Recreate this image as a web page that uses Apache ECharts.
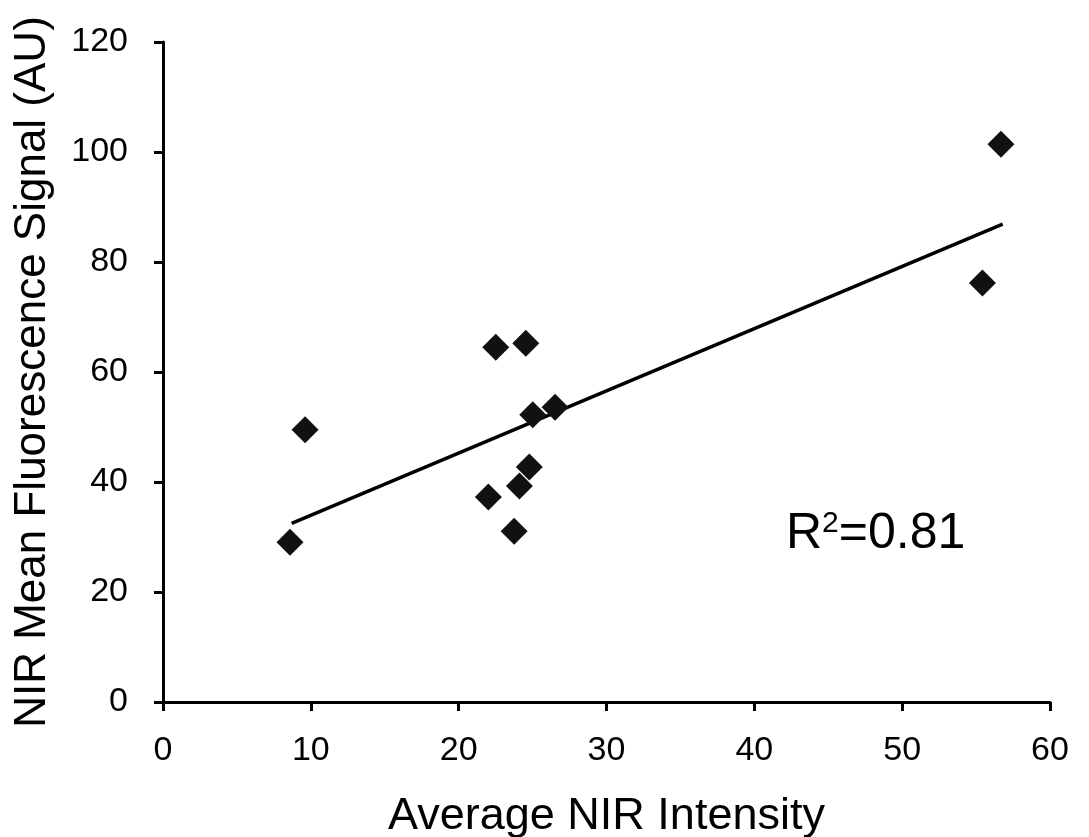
<!DOCTYPE html>
<html><head><meta charset="utf-8">
<script src="https://cdn.jsdelivr.net/npm/echarts@6/dist/echarts.min.js"></script>
<style>html,body{margin:0;padding:0;background:#fff}#c{width:1089px;height:837px}</style>
</head><body><div id="c"></div>
<script>
const xValues = [8.59, 9.61, 22.01, 22.51, 23.75, 24.11, 24.54, 24.78, 25.01, 26.52, 55.43, 56.68];
const yValues = [29.05, 49.48, 37.26, 64.51, 31.06, 39.27, 65.24, 42.73, 52.22, 53.57, 76.18, 101.4];
const trendX = [8.7, 56.8];
const trendY = [32.46, 86.87];
const rSquaredText = '0.81';

const font = 'Liberation Sans, Arial, sans-serif';
const chart = echarts.init(document.getElementById('c'), null, {renderer: 'canvas'});
chart.setOption({
  animation: false,
  backgroundColor: '#fff',
  grid: {left: 163, right: 39, top: 42, bottom: 135, containLabel: false, outerBoundsMode: 'none'},
  xAxis: {
    type: 'value', min: 0, max: 60, interval: 10,
    name: 'Average NIR Intensity', nameLocation: 'middle', nameGap: 92,
    nameTextStyle: {fontFamily: font, fontSize: 45, color: '#000'},
    axisLine: {show: true, lineStyle: {color: '#000', width: 3}},
    axisTick: {show: true, length: 9, lineStyle: {color: '#000', width: 3}},
    axisLabel: {fontFamily: font, fontSize: 34, color: '#000', margin: 32},
    splitLine: {show: false}
  },
  yAxis: {
    type: 'value', min: 0, max: 120, interval: 20,
    name: 'NIR Mean Fluorescence Signal (AU)', nameLocation: 'middle', nameGap: 108,
    nameTextStyle: {fontFamily: font, fontSize: 44, color: '#000'},
    axisLine: {show: true, lineStyle: {color: '#000', width: 3}},
    axisTick: {show: true, length: 9, lineStyle: {color: '#000', width: 3}},
    axisLabel: {fontFamily: font, fontSize: 34, color: '#000', margin: 35},
    splitLine: {show: false}
  },
  series: [
    {
      type: 'scatter', symbol: 'diamond', symbolSize: 27,
      itemStyle: {color: '#111', opacity: 1},
      data: xValues.map((x, i) => [x, yValues[i]]), z: 3
    },
    {
      type: 'line', symbol: 'none', silent: true,
      lineStyle: {color: '#000', width: 3.5},
      data: trendX.map((x, i) => [x, trendY[i]]), z: 2
    }
  ],
  graphic: [{
    type: 'text', left: 786, top: 509,
    style: {
      text: '{r|R}{s|2}{r|=' + rSquaredText + '}',
      rich: {
        r: {fontFamily: font, fontSize: 50, fill: '#000', verticalAlign: 'bottom'},
        s: {fontFamily: font, fontSize: 30, fill: '#000', verticalAlign: 'top', padding: [0, 0, 18, 0]}
      }
    }
  }]
});
</script></body></html>
